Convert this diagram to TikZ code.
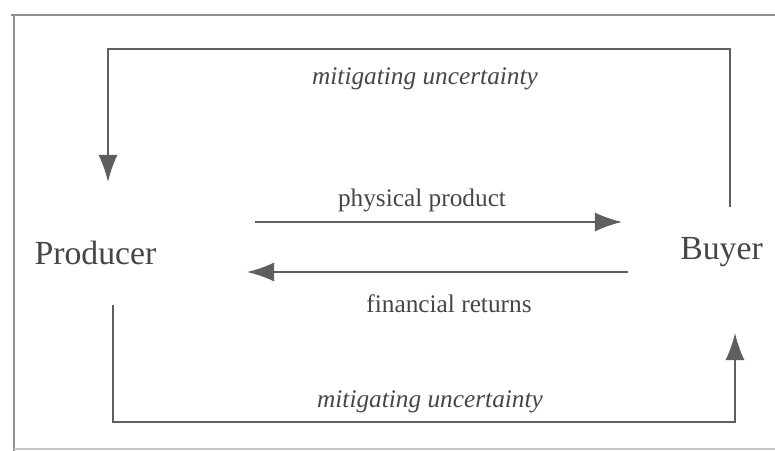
\documentclass[tikz,border=0pt]{standalone}
\usepackage{fontspec}
\setmainfont{Liberation Serif}
\usepackage{xcolor}
\usepackage{tikz}
\usetikzlibrary{arrows.meta, positioning}
\definecolor{ink}{RGB}{70,70,70}
\definecolor{rule}{RGB}{95,95,95}

\begin{document}
\begin{tikzpicture}[x=0.025cm, y=-0.025cm,
  party/.style={anchor=base, inner sep=0pt, text=ink, font=\fontsize{24}{28}\selectfont},
  lbl/.style={anchor=base, inner sep=0pt, text=ink, font=\fontsize{18}{21}\selectfont},
  flow/.style={draw=rule, line width=1.3pt, -{Latex[length=0.68cm, width=0.48cm]}},
  frame/.style={draw=rule!70, line width=1.1pt}]
  \useasboundingbox (0,0) rectangle (775,451);
  % outer frame of the figure
  \draw[frame] (11,15) -- (775,15);
  \draw[frame] (14,15) -- (14,451);
  \draw[frame, draw=rule!35] (14,449) -- (775,449);
  % the two parties
  \node[party] (producer) at (95.5,265) {Producer};
  \node[party] (buyer) at (721.5,260) {Buyer};
  % loose ends of the connectors
  \coordinate (topR) at (730,207);
  \coordinate (topL) at (108,182);
  \coordinate (botL) at (113,305);
  \coordinate (botR) at (735,333);
  \coordinate (prodOut) at (255,222);
  \coordinate (buyIn) at (622,222);
  \coordinate (buyOut) at (628,272);
  \coordinate (prodIn) at (247,272);
  % flows
  \draw[flow] (topR) |- (108,49) -- (topL);
  \draw[flow] (botL) |- (735,422) -- (botR);
  \draw[flow] (prodOut) -- (buyIn);
  \draw[flow] (buyOut) -- (prodIn);
  % labels
  \node[lbl, font=\fontsize{18}{21}\selectfont\itshape] (mitTop) at (425,85) {mitigating uncertainty};
  \node[lbl] (phys) at (422,207) {physical product};
  \node[lbl] (fin) at (449,313) {financial returns};
  \node[lbl, font=\fontsize{18}{21}\selectfont\itshape] (mitBot) at (430,407) {mitigating uncertainty};
\end{tikzpicture}
\end{document}
